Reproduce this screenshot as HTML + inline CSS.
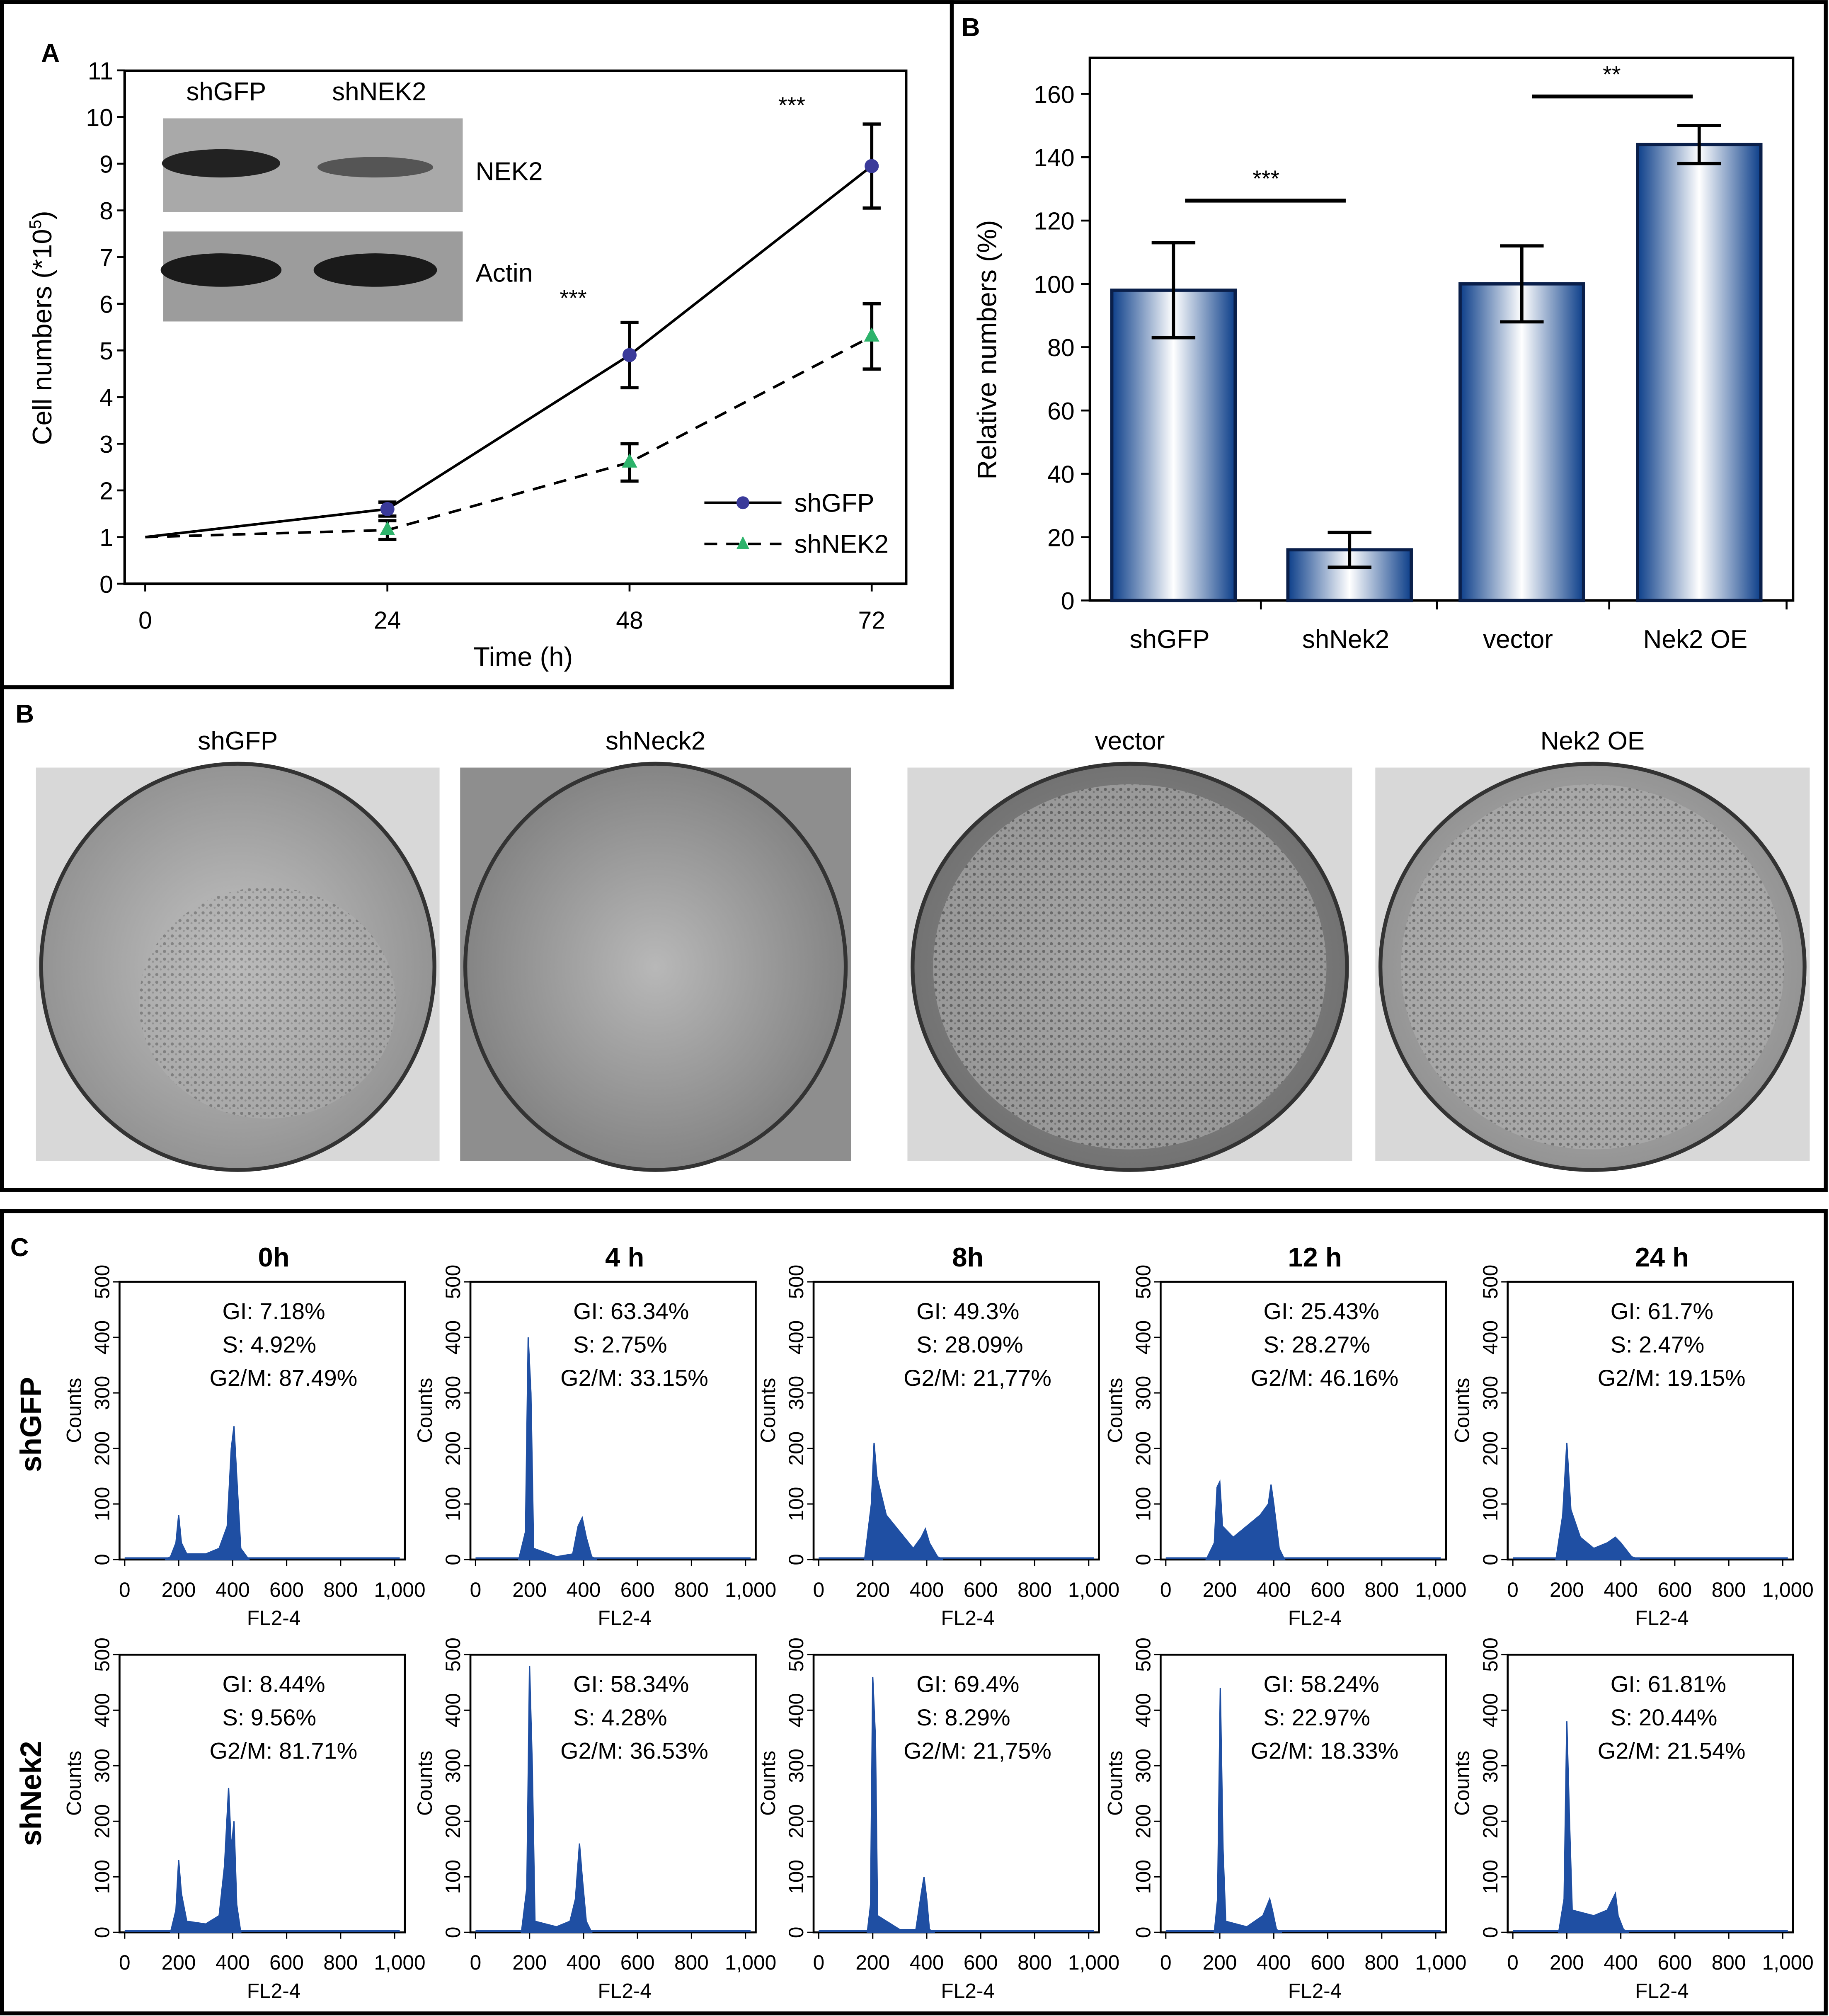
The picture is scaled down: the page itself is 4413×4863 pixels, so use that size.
<!DOCTYPE html>
<html><head><meta charset="utf-8">
<style>
html,body{margin:0;padding:0;background:#fff;}
svg{display:block;font-family:"Liberation Sans",sans-serif;}
</style></head>
<body>
<svg id="fig" width="4413" height="4863" viewBox="0 0 1423 1568" xmlns="http://www.w3.org/2000/svg">
<defs>
<linearGradient id="barg" x1="0" x2="1" y1="0" y2="0">
<stop offset="0" stop-color="#0d3f8a"/><stop offset="0.5" stop-color="#ffffff"/><stop offset="1" stop-color="#0d3f8a"/>
</linearGradient>
<radialGradient id="dish1" cx="0.5" cy="0.5" r="0.6"><stop offset="0" stop-color="#c4c4c4"/><stop offset="1" stop-color="#8a8a8a"/></radialGradient>
<radialGradient id="dish2" cx="0.5" cy="0.5" r="0.6"><stop offset="0" stop-color="#b8b8b8"/><stop offset="1" stop-color="#7a7a7a"/></radialGradient>
<radialGradient id="dish3" cx="0.5" cy="0.5" r="0.6"><stop offset="0" stop-color="#9a9a9a"/><stop offset="1" stop-color="#6a6a6a"/></radialGradient>
<pattern id="speck" width="6" height="6" patternUnits="userSpaceOnUse"><rect width="6" height="6" fill="#b0b0b0"/><circle cx="2" cy="2" r="1.2" fill="#555"/><circle cx="5" cy="4" r="0.8" fill="#777"/></pattern>
</defs>
<rect x="0" y="0" width="1423" height="1568" fill="#fff"/>
<!-- outer borders -->
<rect x="1.5" y="1.5" width="1419" height="924" fill="none" stroke="#000" stroke-width="3"/>
<rect x="1.5" y="1.5" width="739" height="533" fill="none" stroke="#000" stroke-width="3"/>
<line x1="740" y1="535" x2="1420" y2="535" stroke="#fff" stroke-width="0"/>
<rect x="1.5" y="942" width="1419" height="624" fill="none" stroke="#000" stroke-width="3"/>
<g id="gA"></g>
<g id="gB"></g>
<g id="gCol"></g>
<g id="gC"></g>
</svg>
<script>
const NS="http://www.w3.org/2000/svg";
function el(tag,attrs,parent,text){const e=document.createElementNS(NS,tag);for(const k in attrs)e.setAttribute(k,attrs[k]);if(text!==undefined)e.textContent=text;parent.appendChild(e);return e;}

// ---------- Panel A data ----------
const timeCats=[0,24,48,72];
const shGFPVals=[1,1.6,4.9,8.95];
const shGFPErr=[0,0.15,0.7,0.9];
const shNEK2Vals=[1,1.15,2.6,5.3];
const shNEK2Err=[0,0.2,0.4,0.7];
const yTicksA=[0,1,2,3,4,5,6,7,8,9,10,11];
// ---------- Panel B data ----------
const barCats=["shGFP","shNek2","vector","Nek2 OE"];
const barVals=[98,16,100,144];
const barErr=[15,5.5,12,6];
const yTicksB=[0,20,40,60,80,100,120,140,160];
// ---------- Panel C data ----------
const timeLabels=["0h","4  h","8h","12  h","24  h"];
const rowLabels=["shGFP","shNek2"];
const statsGFP=[["GI: 7.18%","S: 4.92%","G2/M: 87.49%"],["GI: 63.34%","S: 2.75%","G2/M: 33.15%"],["GI: 49.3%","S: 28.09%","G2/M: 21,77%"],["GI: 25.43%","S: 28.27%","G2/M: 46.16%"],["GI: 61.7%","S: 2.47%","G2/M: 19.15%"]];
const statsNek=[["GI: 8.44%","S: 9.56%","G2/M: 81.71%"],["GI: 58.34%","S: 4.28%","G2/M: 36.53%"],["GI: 69.4%","S: 8.29%","G2/M: 21,75%"],["GI: 58.24%","S: 22.97%","G2/M: 18.33%"],["GI: 61.81%","S: 20.44%","G2/M: 21.54%"]];
const histX=[0,200,400,600,800,1000];
const histXLabels=["0","200","400","600","800","1,000"];
const histY=[0,100,200,300,400,500];
const hGFP0=[[150,0],[170,5],[190,30],[200,80],[210,30],[230,10],[300,10],[350,20],[380,60],[395,200],[405,240],[415,150],[430,20],[460,0]];
const hGFP1=[[160,0],[185,50],[195,400],[205,300],[215,20],[300,5],[360,10],[380,60],[395,75],[410,40],[430,5],[450,0]];
const hGFP2=[[170,0],[195,100],[205,210],[215,150],[250,80],[300,50],[350,20],[380,40],[395,55],[410,30],[440,5],[460,0]];
const hGFP3=[[150,0],[180,30],[190,130],[200,140],[210,60],[250,40],[300,60],[350,80],[380,100],[390,135],[400,100],[420,20],[440,0]];
const hGFP4=[[160,0],[185,80],[200,210],[215,90],[250,40],[300,20],[350,30],[380,40],[400,30],[440,5],[470,0]];
const hNek0=[[170,0],[190,40],[200,130],[210,70],[230,20],[300,15],[350,30],[370,120],[385,260],[395,150],[405,200],[415,50],[430,0]];
const hNek1=[[170,0],[190,80],[200,480],[210,300],[220,20],[300,10],[350,20],[370,60],[385,160],[395,100],[410,20],[430,0]];
const hNek2=[[180,0],[192,50],[200,460],[210,350],[218,30],[300,5],[360,5],[380,70],[390,100],[400,60],[410,5],[430,0]];
const hNek3=[[180,0],[192,60],[202,440],[212,150],[222,20],[300,10],[360,30],[385,60],[395,40],[410,5],[430,0]];
const hNek4=[[170,0],[190,60],[200,380],[210,200],[220,40],[300,30],[350,40],[380,70],[390,30],[410,5],[430,0]];

// ===== Panel A =====
(function(){
const g=document.getElementById('gA');
const xA=t=>113+t*7.85, yA=v=>454-v*36.3;
let t=el('text',{x:32,y:48,'font-size':20,'font-weight':'bold'},g,'A');

let f=el('rect',{x:97,y:55,width:608,height:399,fill:'none',stroke:'#000','stroke-width':2},g);

yTicksA.forEach(v=>{el('line',{x1:91,x2:97,y1:yA(v),y2:yA(v),stroke:'#000','stroke-width':1.5},g);
 const tl=el('text',{x:88,y:yA(v)+7,'font-size':19,'text-anchor':'end'},g,v);
 });
timeCats.forEach(v=>{el('line',{x1:xA(v),x2:xA(v),y1:454,y2:460,stroke:'#000','stroke-width':1.5},g);
 const tl=el('text',{x:xA(v),y:489,'font-size':19,'text-anchor':'middle'},g,v);
 });
t=el('text',{x:407,y:518,'font-size':21,'text-anchor':'middle'},g,'Time (h)');
t=el('text',{x:40,y:255,'font-size':21,'text-anchor':'middle',transform:'rotate(-90 40 255)'},g,'Cell numbers (*10');
el('tspan',{dy:-8,'font-size':13},t,'5');el('tspan',{dy:8},t,')');

// blot
const bl=el('g',{},g);
el('rect',{x:127,y:92,width:233,height:73,fill:'#a9a9a9'},bl);
el('rect',{x:127,y:180,width:233,height:70,fill:'#9c9c9c'},bl);
el('ellipse',{cx:172,cy:127,rx:46,ry:11,fill:'#222'},bl);
el('ellipse',{cx:292,cy:130,rx:45,ry:8,fill:'#555'},bl);
el('ellipse',{cx:172,cy:210,rx:47,ry:13,fill:'#1a1a1a'},bl);
el('ellipse',{cx:292,cy:210,rx:48,ry:13,fill:'#1a1a1a'},bl);
[['shGFP',176,78],['shNEK2',295,78],['NEK2',370,140],['Actin',370,219]].forEach(a=>{const tt=el('text',{x:a[1],y:a[2],'font-size':20,'text-anchor':a[1]>360?'start':'middle'},bl,a[0]);});
// lines
function series(vals,err,name,dash,color,marker){
 const pts=timeCats.map((c,i)=>xA(c)+','+yA(vals[i])).join(' ');
 const p=el('polyline',{points:pts,fill:'none',stroke:'#000','stroke-width':2,'stroke-dasharray':dash},g);
 
 timeCats.forEach((c,i)=>{if(err[i]>0){const x=xA(c),y1=yA(vals[i]+err[i]),y2=yA(vals[i]-err[i]);
  el('line',{x1:x,x2:x,y1:y1,y2:y2,stroke:'#000','stroke-width':2.5},g);
  el('line',{x1:x-7,x2:x+7,y1:y1,y2:y1,stroke:'#000','stroke-width':2.5},g);
  el('line',{x1:x-7,x2:x+7,y1:y2,y2:y2,stroke:'#000','stroke-width':2.5},g);}
  let m;
  if(i>0){ if(marker==='c') m=el('circle',{cx:xA(c),cy:yA(vals[i]),r:5.5,fill:color},g);
  else m=el('polygon',{points:`${xA(c)},${yA(vals[i])-7} ${xA(c)+6},${yA(vals[i])+4} ${xA(c)-6},${yA(vals[i])+4}`,fill:color},g);
  }
 });
}
series(shNEK2Vals,shNEK2Err,'shnek2','10,7','#2db36b','t');
series(shGFPVals,shGFPErr,'shgfp','','#3a3a9a','c');
[['***',616,88],['***',446,238]].forEach(a=>{const s=el('text',{x:a[1],y:a[2],'font-size':18,'text-anchor':'middle'},g,a[0]);});
// legend
const lg=el('g',{},g);
el('line',{x1:548,x2:608,y1:391,y2:391,stroke:'#000','stroke-width':2},lg);el('circle',{cx:578,cy:391,r:5,fill:'#3a3a9a'},lg);
el('text',{x:618,y:398,'font-size':20},lg,'shGFP');
el('line',{x1:548,x2:608,y1:423,y2:423,stroke:'#000','stroke-width':2,'stroke-dasharray':'10,7'},lg);
el('polygon',{points:'578,417 583,427 573,427',fill:'#2db36b'},lg);
el('text',{x:618,y:430,'font-size':20},lg,'shNEK2');
})();

// ===== Panel B chart =====
(function(){
const g=document.getElementById('gB');
const yB=v=>467-v*2.4625;
const xC=[913,1050,1184,1322];
let t=el('text',{x:748,y:28,'font-size':20,'font-weight':'bold'},g,'B');
let f=el('rect',{x:848,y:45,width:547,height:422,fill:'none',stroke:'#000','stroke-width':2},g);
yTicksB.forEach(v=>{el('line',{x1:841,x2:848,y1:yB(v),y2:yB(v),stroke:'#000','stroke-width':1.5},g);
 const tl=el('text',{x:836,y:yB(v)+7,'font-size':19,'text-anchor':'end'},g,v);});
t=el('text',{x:775,y:272,'font-size':21,'text-anchor':'middle',transform:'rotate(-90 775 272)'},g,'Relative numbers (%)');
barCats.forEach((c,i)=>{const x=xC[i];
 const b=el('rect',{x:x-48,y:yB(barVals[i]),width:96,height:467-yB(barVals[i]),fill:'url(#barg)',stroke:'#0a1f4a','stroke-width':2.5},g);
 
 const y1=yB(barVals[i]+barErr[i]),y2=yB(barVals[i]-barErr[i]);
 el('line',{x1:x,x2:x,y1:y1,y2:y2,stroke:'#000','stroke-width':2.5},g);
 el('line',{x1:x-17,x2:x+17,y1:y1,y2:y1,stroke:'#000','stroke-width':2.5},g);
 el('line',{x1:x-17,x2:x+17,y1:y2,y2:y2,stroke:'#000','stroke-width':2.5},g);
 el('line',{x1:x+68,x2:x+68,y1:467,y2:474,stroke:'#000','stroke-width':1.5},g);
 const tl=el('text',{x:x-3,y:504,'font-size':20,'text-anchor':'middle'},g,c);
});
el('line',{x1:922,x2:1047,y1:156,y2:156,stroke:'#000','stroke-width':3},g);
el('line',{x1:1192,x2:1317,y1:75,y2:75,stroke:'#000','stroke-width':3},g);
[['***',985,145],['**',1254,64]].forEach(a=>{const s=el('text',{x:a[1],y:a[2],'font-size':18,'text-anchor':'middle'},g,a[0]);});
})();

// ===== Colonies =====
(function(){
const g=document.getElementById('gCol');
let t=el('text',{x:12,y:562,'font-size':20,'font-weight':'bold'},g,'B');
const dishes=[["shGFP",28,314,'url(#dish1)'],["shNeck2",358,304,'url(#dish2)'],["vector",706,346,'url(#dish3)'],["Nek2 OE",1070,338,'url(#dish1)']];
dishes.forEach((d,i)=>{
 const gg=el('g',{},g);
 el('rect',{x:d[1],y:597,width:d[2],height:306,fill:i==1?'#8e8e8e':'#d8d8d8'},gg);
 el('ellipse',{cx:d[1]+d[2]/2,cy:752,rx:d[2]/2-4,ry:158,fill:d[3],stroke:'#333','stroke-width':3},gg);
 if(i>=2) el('ellipse',{cx:d[1]+d[2]/2,cy:752,rx:d[2]/2-20,ry:142,fill:'url(#speck)',opacity:0.6},gg);
 if(i==0) el('ellipse',{cx:d[1]+180,cy:780,rx:100,ry:90,fill:'url(#speck)',opacity:0.5},gg);
 const tl=el('text',{x:d[1]+d[2]/2,y:583,'font-size':20,'text-anchor':'middle'},g,d[0]);
});
})();

// ===== Panel C =====
(function(){
const g=document.getElementById('gC');
let t=el('text',{x:8,y:977,'font-size':20,'font-weight':'bold'},g,'C');
const colX=[93,366,633,903,1173];
const rowY=[997,1287];
const hists=[[hGFP0,hGFP1,hGFP2,hGFP3,hGFP4],[hNek0,hNek1,hNek2,hNek3,hNek4]];
const stats=[statsGFP,statsNek];
timeLabels.forEach((l,c)=>{const tl=el('text',{x:colX[c]+120,y:985,'font-size':21,'font-weight':'bold','text-anchor':'middle'},g,l);});
rowLabels.forEach((l,r)=>{const cy=[1108,1395][r];const tl=el('text',{x:32,y:cy,'font-size':23,'font-weight':'bold','text-anchor':'middle',transform:`rotate(-90 32 ${cy})`},g,l);});
for(let r=0;r<2;r++)for(let c=0;c<5;c++){
 const x0=colX[c],y0=rowY[r],w=222,h=216;
 const xs=v=>x0+4+v*0.21, ys=v=>y0+h-v*0.432;
 const gg=el('g',{},g);
 el('rect',{x:x0,y:y0,width:w,height:h,fill:'none',stroke:'#000','stroke-width':1.5},gg);
 histY.forEach(v=>{el('line',{x1:x0-5,x2:x0,y1:ys(v),y2:ys(v),stroke:'#000'},gg);
  const tl=el('text',{x:x0-8,y:ys(v),'font-size':16,'text-anchor':'middle',transform:`rotate(-90 ${x0-8} ${ys(v)})`},gg,v);});
 histX.forEach((v,i)=>{el('line',{x1:xs(v),x2:xs(v),y1:y0+h,y2:y0+h+5,stroke:'#000'},gg);
  const tl=el('text',{x:xs(v)+(i==5?4:0),y:y0+h+29,'font-size':16,'text-anchor':'middle'},gg,histXLabels[i]);});
 let tt=el('text',{x:x0+120,y:y0+h+51,'font-size':16,'text-anchor':'middle'},gg,'FL2-4');
 tt=el('text',{x:x0-30,y:y0+100,'font-size':16,'text-anchor':'middle',transform:`rotate(-90 ${x0-30} ${y0+100})`},gg,'Counts');
 const pts=hists[r][c].map(p=>xs(p[0])+','+ys(p[1])).join(' ');
 const poly=el('polygon',{points:pts,fill:'#1f4fa3',stroke:'#1f4fa3','stroke-width':1},gg);
 
 el('line',{x1:x0+4,x2:x0+w-4,y1:y0+h-1,y2:y0+h-1,stroke:'#1f4fa3','stroke-width':1.5},gg);
 stats[r][c].forEach((s,k)=>{const st=el('text',{x:x0+(k==2?70:80),y:y0+29+k*26,'font-size':18},gg,s);});
}
})();
</script>
</body></html>
